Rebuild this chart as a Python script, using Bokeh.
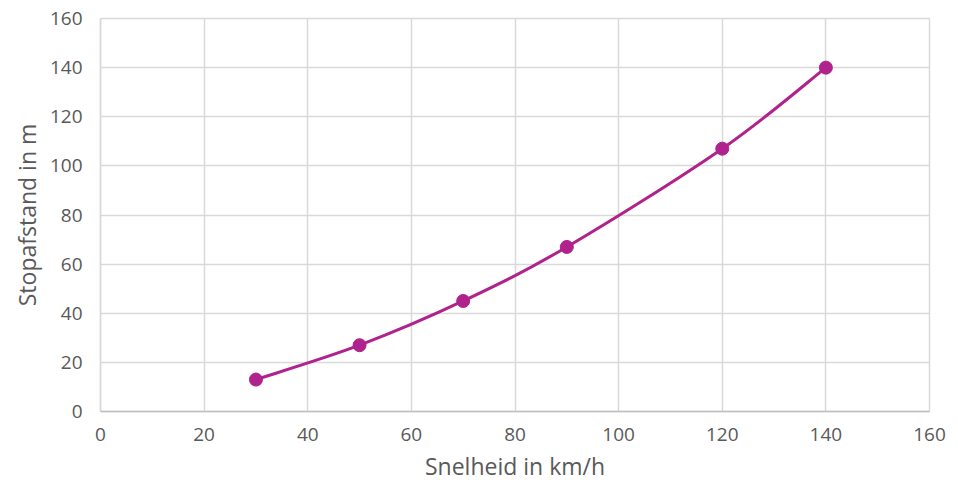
from bokeh.plotting import figure
from bokeh.models import Range1d, FixedTicker, ColumnDataSource
from bokeh.embed import file_html
from bokeh.resources import INLINE

# Stopping distance versus speed
snelheid = [30, 50, 70, 90, 120, 140]
stopafstand = [13, 27, 45, 67, 107, 140]
ticks = [0, 20, 40, 60, 80, 100, 120, 140, 160]

LINE = "#B0228C"
GRID = "#d9d9d9"
TEXT = "#595959"
FONT = "Open Sans"

p = figure(width=958, height=484, output_backend="svg", toolbar_location=None,
           x_range=Range1d(0, 160), y_range=Range1d(0, 160),
           min_border_left=100, min_border_right=29,
           min_border_top=18, min_border_bottom=72)
p.outline_line_color = GRID
p.outline_line_width = 1.5
p.background_fill_color = "white"
p.border_fill_color = "white"

for ax in (p.xaxis[0], p.yaxis[0]):
    ax.ticker = FixedTicker(ticks=ticks)
    ax.major_tick_line_color = None
    ax.minor_tick_line_color = None
    ax.major_label_text_font = FONT
    ax.major_label_text_font_size = "19px"
    ax.major_label_text_color = TEXT
    ax.axis_label_text_font = FONT
    ax.axis_label_text_font_size = "23px"
    ax.axis_label_text_color = TEXT
    ax.axis_label_text_font_style = "normal"

p.xaxis.axis_label = "Snelheid in km/h"
p.yaxis.axis_label = "Stopafstand in m"
p.xaxis.axis_line_color = "#bfbfbf"
p.xaxis.axis_line_width = 1.5
p.yaxis.axis_line_color = GRID
p.yaxis.axis_line_width = 1.5
p.xaxis.major_label_standoff = 10
p.yaxis.major_label_standoff = 12
p.xaxis.axis_label_standoff = 6
p.yaxis.axis_label_standoff = 4

p.xgrid.ticker = FixedTicker(ticks=ticks)
p.ygrid.ticker = FixedTicker(ticks=ticks)
p.xgrid.grid_line_color = GRID
p.ygrid.grid_line_color = GRID
p.xgrid.grid_line_width = 1.5
p.ygrid.grid_line_width = 1.5

# Smoothed connecting line: cubic Bezier segments (Catmull-Rom style)
n = len(snelheid)
x0, y0, x1, y1, cx0, cy0, cx1, cy1 = ([] for _ in range(8))
for i in range(n - 1):
    pa = (snelheid[max(i - 1, 0)], stopafstand[max(i - 1, 0)])
    pb = (snelheid[i], stopafstand[i])
    pc = (snelheid[i + 1], stopafstand[i + 1])
    pd = (snelheid[min(i + 2, n - 1)], stopafstand[min(i + 2, n - 1)])
    x0.append(pb[0]); y0.append(pb[1])
    x1.append(pc[0]); y1.append(pc[1])
    cx0.append(pb[0] + (pc[0] - pa[0]) / 6); cy0.append(pb[1] + (pc[1] - pa[1]) / 6)
    cx1.append(pc[0] - (pd[0] - pb[0]) / 6); cy1.append(pc[1] - (pd[1] - pb[1]) / 6)

seg = ColumnDataSource(dict(x0=x0, y0=y0, x1=x1, y1=y1,
                            cx0=cx0, cy0=cy0, cx1=cx1, cy1=cy1))
p.bezier(x0="x0", y0="y0", x1="x1", y1="y1", cx0="cx0", cy0="cy0",
         cx1="cx1", cy1="cy1", source=seg, line_color=LINE, line_width=3)

pts = ColumnDataSource(dict(x=snelheid, y=stopafstand))
p.scatter("x", "y", source=pts, size=13, fill_color=LINE, line_color=LINE)

open("out.html", "w").write(file_html(p, INLINE))
